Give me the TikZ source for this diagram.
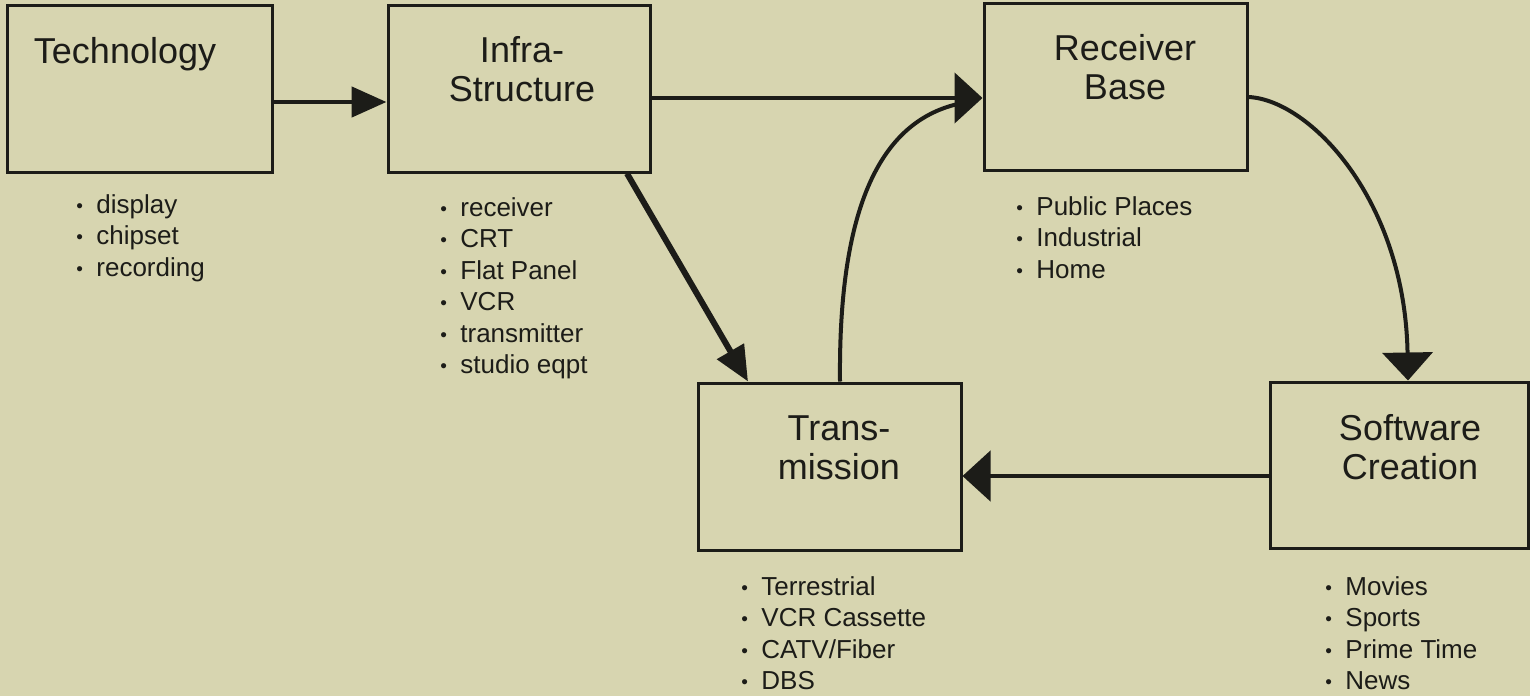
\documentclass[tikz,border=0pt]{standalone}
\usepackage{fontspec}
\setmainfont{Liberation Sans}
\usetikzlibrary{arrows.meta}
\definecolor{bgc}{RGB}{215,213,176}
\definecolor{ink}{RGB}{28,28,24}
\newcommand{\bdot}{\makebox[10pt][l]{\raisebox{0.6pt}{\fontsize{9.5pt}{9.5pt}\selectfont •}}}
\begin{document}
\begin{tikzpicture}[x=0.5pt,y=-0.5pt,
  box/.style={draw=ink,line width=1.5pt,rectangle,inner sep=0pt},
  ttl/.style={text=ink,font=\fontsize{18pt}{19.5pt}\selectfont,align=center,inner sep=0pt,anchor=north},
  lst/.style={text=ink,font=\fontsize{13pt}{15.75pt}\selectfont,align=left,inner sep=0pt,anchor=north west},
  smallhead/.style={-{Triangle[length=17.5pt,width=15pt]}},
  widehead/.style={-{Triangle[length=14pt,width=25pt]}},
  conn/.style={draw=ink,line width=2.4pt},
  curve/.style={draw=ink,line width=2pt}
]
\fill[bgc] (0,0) rectangle (1530,696);
\useasboundingbox (0,0) rectangle (1530,696);

% boxes
\node[box,minimum width=132.5pt,minimum height=83.5pt] (tech) at (139.5,88.5) {};
\node[box,minimum width=131pt,minimum height=83.5pt] (infra) at (519,88.5) {};
\node[box,minimum width=131.5pt,minimum height=83.5pt] (recv) at (1115.5,86.5) {};
\node[box,minimum width=131.5pt,minimum height=83.5pt] (trans) at (829.5,466.5) {};
\node[box,minimum width=129pt,minimum height=83pt] (soft) at (1399,465) {};

% titles
\node[ttl] (ttech) at (125,35.7) {\strut Technology};
\node[ttl] (tinfra) at (522,34.7) {\strut Infra-\\Structure};
\node[ttl] (trecv) at (1125,32.7) {\strut Receiver\\Base};
\node[ttl] (ttrans) at (839,412.7) {\strut Trans-\\mission};
\node[ttl] (tsoft) at (1410,412.7) {\strut Software\\Creation};

% bullet lists
\node[lst] (ltech) at (76,191) {\strut\bdot display\\\bdot chipset\\\bdot recording};
\node[lst] (linfra) at (440,194) {\strut\bdot receiver\\\bdot CRT\\\bdot Flat Panel\\\bdot VCR\\\bdot transmitter\\\bdot studio eqpt};
\node[lst] (lrecv) at (1016,193) {\strut\bdot Public Places\\\bdot Industrial\\\bdot Home};
\node[lst] (ltrans) at (741,573) {\strut\bdot Terrestrial\\\bdot VCR Cassette\\\bdot CATV/Fiber\\\bdot DBS};
\node[lst] (lsoft) at (1325,573) {\strut\bdot Movies\\\bdot Sports\\\bdot Prime Time\\\bdot News};

% connectors
\draw[conn,smallhead] ([yshift=-6.75pt]tech.east) -- ([yshift=-6.75pt]infra.west);
\draw[conn,widehead] ([yshift=-4.75pt]infra.east) -- ([yshift=-5.75pt]recv.west);
\draw[conn,line width=3pt,smallhead] ([xshift=54pt]infra.south) -- ([xshift=-40.75pt]trans.north);
\draw[curve,shorten >=6pt] ([xshift=5.25pt]trans.north) .. controls (838,180) and (895,112) .. ([yshift=-6.75pt]recv.west);
\draw[curve,widehead] ([yshift=-5.25pt]recv.east) .. controls (1310,100) and (1405,200) .. ([xshift=4.5pt]soft.north);
\draw[conn,widehead] ([yshift=-5.5pt]soft.west) -- ([yshift=-4.75pt]trans.east);
\end{tikzpicture}
\end{document}
